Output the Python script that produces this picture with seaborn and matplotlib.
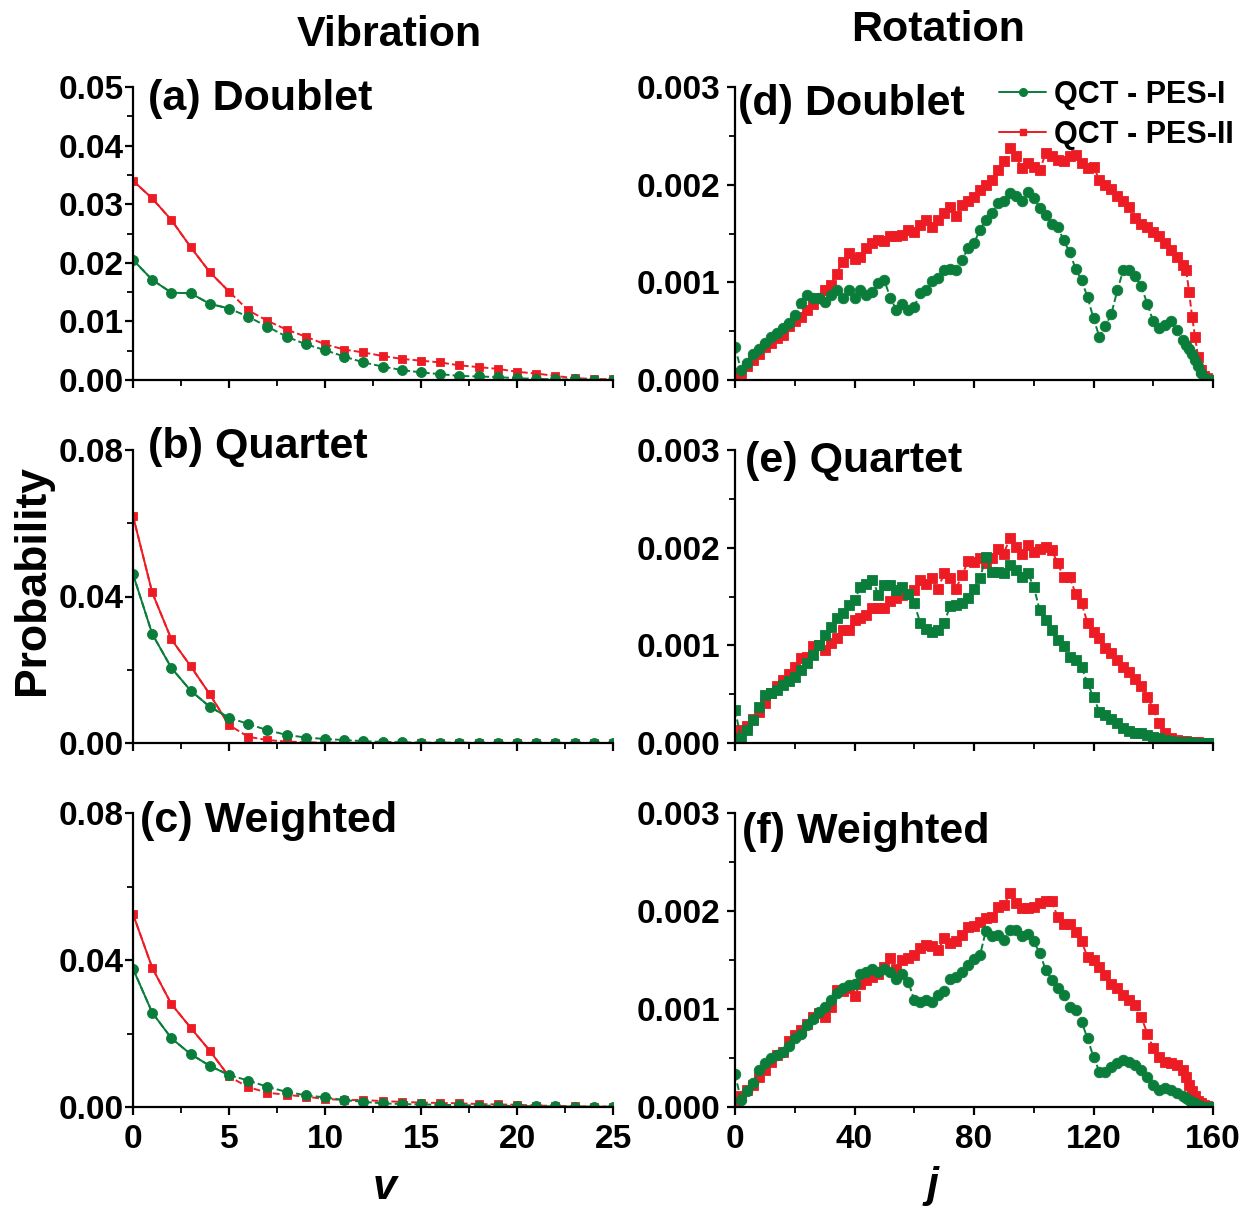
import numpy as np
import pandas as pd
import matplotlib
matplotlib.use("Agg")
import matplotlib.pyplot as plt
from matplotlib.lines import Line2D
from matplotlib.ticker import MultipleLocator, FormatStrFormatter
import seaborn as sns

sns.set_theme(style="ticks")
plt.rcParams["font.family"] = ["Liberation Sans", "DejaVu Sans"]
plt.rcParams["font.weight"] = "bold"
plt.rcParams["axes.labelweight"] = "bold"
for key in ("text.color", "axes.labelcolor", "xtick.color", "ytick.color",
            "axes.edgecolor"):
    plt.rcParams[key] = "black"

GREEN = "#0a7d3b"
RED = "#ed1c24"

# ---------------- vibrational distributions (v = 0..25) ----------------
v = list(range(26))

vib_doublet_pes1 = [0.0205, 0.0171, 0.0149, 0.0148, 0.0130, 0.0122, 0.0108, 0.0091,
                    0.0074, 0.0061, 0.0051, 0.0040, 0.0030, 0.0023, 0.0017, 0.0013,
                    0.0010, 0.0007, 0.0006, 0.0005, 0.0003, 0.0002, 0.0001, 0.0001,
                    0.00005, 0.0]
vib_doublet_pes2 = [0.0340, 0.0310, 0.0273, 0.0227, 0.0184, 0.0151, 0.0119, 0.0101,
                    0.0086, 0.0074, 0.0061, 0.0052, 0.0047, 0.0041, 0.0036, 0.0033,
                    0.0030, 0.0025, 0.0022, 0.0019, 0.0014, 0.0011, 0.0007, 0.0003,
                    0.0002, 0.0001]

vib_quartet_pes1 = [0.0461, 0.0298, 0.0205, 0.0143, 0.0099, 0.0069, 0.0052, 0.0035,
                    0.0022, 0.0015, 0.0011, 0.0008, 0.0005, 0.0003, 0.0002, 0.0001,
                    0.0001, 0.0001, 0.0, 0.0, 0.0, 0.0, 0.0, 0.0, 0.0, 0.0]
vib_quartet_pes2 = [0.0620, 0.0411, 0.0283, 0.0210, 0.0133, 0.0049, 0.0017, 0.0008,
                    0.0004, 0.0002, 0.0001, 0.0001, 0.0, 0.0, 0.0, 0.0, 0.0, 0.0,
                    0.0, 0.0, 0.0, 0.0, 0.0, 0.0, 0.0, 0.0]

vib_weighted_pes1 = [0.0376, 0.0257, 0.0187, 0.0144, 0.0112, 0.0087, 0.0072, 0.0055,
                     0.0041, 0.0032, 0.0026, 0.0019, 0.0014, 0.0010, 0.0008, 0.0007,
                     0.0006, 0.0005, 0.0004, 0.0003, 0.0003, 0.0002, 0.0002, 0.0001,
                     0.0001, 0.0001]
vib_weighted_pes2 = [0.0525, 0.0379, 0.0280, 0.0216, 0.0153, 0.0083, 0.0054, 0.0039,
                     0.0033, 0.0028, 0.0022, 0.0019, 0.0019, 0.0016, 0.0014, 0.0012,
                     0.0011, 0.0010, 0.0008, 0.0007, 0.0006, 0.0004, 0.0003, 0.0002,
                     0.0001, 0.0001]

# ---------------- rotational distributions (units of 1e-3) ----------------
j = list(range(0, 151, 2)) + list(range(151, 161))

rot_doublet_pes1 = [0.34, 0.10, 0.17, 0.27, 0.32, 0.38, 0.44, 0.48, 0.53, 0.58, 0.67,
                    0.79, 0.87, 0.84, 0.84, 0.80, 0.87, 0.92, 0.84, 0.92, 0.84,
                    0.92, 0.87, 0.90, 0.99, 1.02, 0.84, 0.72, 0.78, 0.72, 0.75,
                    0.89, 0.92, 1.01, 1.04, 1.13, 1.14, 1.13, 1.23, 1.35, 1.40,
                    1.54, 1.64, 1.71, 1.81, 1.83, 1.91, 1.88, 1.83, 1.93, 1.86,
                    1.76, 1.69, 1.60, 1.57, 1.43, 1.31, 1.14, 1.02, 0.85, 0.63,
                    0.44, 0.55, 0.68, 0.92, 1.13, 1.13, 1.06, 0.96, 0.78, 0.60,
                    0.53, 0.56, 0.60, 0.51, 0.41,
                    0.36, 0.32, 0.27, 0.20, 0.14, 0.07, 0.02, 0.01, 0.0, 0.0]
rot_doublet_pes2 = [0.02, 0.07, 0.14, 0.20, 0.27, 0.34, 0.38, 0.43, 0.46, 0.55, 0.60,
                    0.65, 0.72, 0.78, 0.84, 0.92, 0.97, 1.09, 1.21, 1.30, 1.24,
                    1.26, 1.35, 1.40, 1.43, 1.42, 1.47, 1.47, 1.48, 1.54, 1.52,
                    1.59, 1.64, 1.57, 1.64, 1.71, 1.77, 1.68, 1.79, 1.83, 1.87,
                    1.95, 2.00, 2.05, 2.15, 2.24, 2.38, 2.29, 2.17, 2.22, 2.18,
                    2.15, 2.32, 2.29, 2.25, 2.24, 2.29, 2.30, 2.22, 2.17, 2.18,
                    2.05, 2.00, 1.96, 1.88, 1.83, 1.77, 1.66, 1.60, 1.57, 1.52,
                    1.47, 1.40, 1.33, 1.26, 1.18,
                    1.13, 0.90, 0.65, 0.44, 0.24, 0.10, 0.04, 0.02, 0.0, 0.0]

rot_quartet_pes1 = [0.34, 0.05, 0.13, 0.24, 0.37, 0.49, 0.51, 0.54, 0.59, 0.63, 0.68,
                    0.75, 0.82, 0.90, 1.00, 1.11, 1.19, 1.28, 1.33, 1.41, 1.46,
                    1.60, 1.63, 1.67, 1.52, 1.62, 1.62, 1.57, 1.60, 1.53, 1.43,
                    1.23, 1.17, 1.14, 1.16, 1.23, 1.40, 1.41, 1.43, 1.48, 1.58,
                    1.69, 1.90, 1.75, 1.75, 1.74, 1.82, 1.77, 1.70, 1.74, 1.60,
                    1.36, 1.26, 1.16, 1.05, 0.99, 0.88, 0.85, 0.78, 0.61, 0.47,
                    0.32, 0.29, 0.25, 0.20, 0.15, 0.12, 0.10, 0.10, 0.08, 0.06,
                    0.05, 0.03, 0.02, 0.01, 0.01,
                    0.01, 0.01, 0.005, 0.005, 0.0, 0.0, 0.0, 0.0, 0.0, 0.0]
rot_quartet_pes2 = [0.06, 0.13, 0.17, 0.25, 0.32, 0.41, 0.51, 0.58, 0.65, 0.71, 0.78,
                    0.87, 0.88, 0.99, 1.00, 0.95, 1.02, 1.07, 1.16, 1.16, 1.26,
                    1.28, 1.31, 1.38, 1.38, 1.38, 1.45, 1.48, 1.52, 1.53, 1.57,
                    1.67, 1.63, 1.69, 1.58, 1.74, 1.69, 1.58, 1.72, 1.86, 1.85,
                    1.89, 1.84, 1.89, 1.99, 1.94, 2.10, 2.01, 1.94, 2.03, 1.96,
                    1.99, 2.01, 1.98, 1.84, 1.70, 1.70, 1.53, 1.43, 1.23, 1.14,
                    1.07, 0.97, 0.92, 0.85, 0.78, 0.73, 0.66, 0.58, 0.47, 0.35,
                    0.20, 0.10, 0.05, 0.03, 0.02,
                    0.02, 0.01, 0.01, 0.01, 0.01, 0.005, 0.005, 0.0, 0.0, 0.0]

rot_weighted_pes1 = [0.34, 0.07, 0.16, 0.24, 0.38, 0.45, 0.50, 0.53, 0.56, 0.62, 0.70,
                     0.75, 0.84, 0.90, 0.97, 1.02, 1.09, 1.16, 1.21, 1.24, 1.26,
                     1.36, 1.38, 1.41, 1.38, 1.41, 1.38, 1.31, 1.36, 1.28, 1.09,
                     1.07, 1.09, 1.07, 1.14, 1.18, 1.31, 1.33, 1.38, 1.45, 1.51,
                     1.55, 1.80, 1.74, 1.76, 1.70, 1.81, 1.81, 1.74, 1.77, 1.69,
                     1.57, 1.40, 1.30, 1.21, 1.14, 1.02, 0.99, 0.87, 0.70, 0.51,
                     0.36, 0.36, 0.41, 0.45, 0.48, 0.46, 0.43, 0.38, 0.31, 0.22,
                     0.17, 0.19, 0.17, 0.14, 0.11,
                     0.09, 0.07, 0.05, 0.04, 0.02, 0.01, 0.0, 0.0, 0.0, 0.0]
rot_weighted_pes2 = [0.04, 0.11, 0.17, 0.22, 0.31, 0.38, 0.46, 0.53, 0.56, 0.67, 0.73,
                     0.79, 0.85, 0.92, 0.96, 0.92, 1.02, 1.19, 1.18, 1.21, 1.13,
                     1.26, 1.30, 1.33, 1.36, 1.43, 1.52, 1.41, 1.50, 1.52, 1.55,
                     1.62, 1.65, 1.64, 1.60, 1.72, 1.67, 1.69, 1.76, 1.84, 1.85,
                     1.89, 1.93, 1.94, 2.04, 2.06, 2.18, 2.08, 2.03, 2.03, 2.04,
                     2.08, 2.10, 2.10, 1.94, 1.87, 1.87, 1.79, 1.69, 1.53, 1.50,
                     1.43, 1.35, 1.26, 1.21, 1.14, 1.09, 1.04, 0.92, 0.75, 0.60,
                     0.51, 0.46, 0.45, 0.43, 0.38,
                     0.31, 0.22, 0.16, 0.11, 0.06, 0.04, 0.02, 0.01, 0.0, 0.0]

ROT_SCALE = 1e-3
DASH = (0, (3.5, 1.6))

fig = plt.figure(figsize=(12.47, 12.09), dpi=100)

W, H = 1247.0, 1209.0
rows_px = [(87, 380), (450, 743), (813, 1107)]


def make_ax(x0, x1, y0, y1):
    return fig.add_axes([x0 / W, 1 - y1 / H, (x1 - x0) / W, (y1 - y0) / H])


def style_axis(ax, show_xlabels, label_pad):
    sns.despine(ax=ax)
    for side in ("left", "bottom"):
        ax.spines[side].set_linewidth(1.6)
        ax.spines[side].set_color("black")
    ax.tick_params(which="major", direction="out", length=6, width=1.6,
                   labelsize=24, colors="black")
    ax.tick_params(axis="y", which="major", pad=label_pad)
    ax.tick_params(axis="x", which="major", pad=6)
    ax.tick_params(which="minor", direction="out", length=4, width=1.3,
                   colors="black")
    if not show_xlabels:
        ax.tick_params(axis="x", labelbottom=False)
    ax.grid(False)
    ax.set_xlabel("")
    ax.set_ylabel("")


def draw_series(ax, df, xcol, ycol, color, marker, ms, solid_upto=None):
    sns.lineplot(data=df, x=xcol, y=ycol, ax=ax, color=color, lw=1.4,
                 linestyle=DASH, marker=marker, markersize=ms,
                 markeredgecolor=color, markeredgewidth=0.6, legend=False)
    if solid_upto is not None:
        part = df[df[xcol] <= solid_upto]
        sns.lineplot(data=part, x=xcol, y=ycol, ax=ax, color=color, lw=1.4,
                     linestyle="-", legend=False)


vib_sets = [
    (vib_doublet_pes1, vib_doublet_pes2, 0.05, 0.01, 0.005, "(a) Doublet", (0.031, 0.959)),
    (vib_quartet_pes1, vib_quartet_pes2, 0.08, 0.04, 0.02, "(b) Quartet", (0.031, 1.010)),
    (vib_weighted_pes1, vib_weighted_pes2, 0.08, 0.04, 0.02, "(c) Weighted", (0.015, 0.973)),
]
rot_sets = [
    (rot_doublet_pes1, rot_doublet_pes2, "o", "(d) Doublet", (0.006, 0.942)),
    (rot_quartet_pes1, rot_quartet_pes2, "s", "(e) Quartet", (0.021, 0.962)),
    (rot_weighted_pes1, rot_weighted_pes2, "o", "(f) Weighted", (0.015, 0.935)),
]

for i, (p1, p2, ymax, major, minor, title, pos) in enumerate(vib_sets):
    y0, y1 = rows_px[i]
    ax = make_ax(133, 613, y0, y1)
    df = pd.DataFrame({"v": v, "pes1": p1, "pes2": p2})
    draw_series(ax, df, "v", "pes2", RED, "s", 6.2, solid_upto=5)
    draw_series(ax, df, "v", "pes1", GREEN, "o", 7.2, solid_upto=5)
    ax.set_xlim(0, 25)
    ax.set_ylim(0, ymax)
    ax.xaxis.set_major_locator(MultipleLocator(5))
    ax.xaxis.set_minor_locator(MultipleLocator(2.5))
    ax.yaxis.set_major_locator(MultipleLocator(major))
    ax.yaxis.set_minor_locator(MultipleLocator(minor))
    ax.yaxis.set_major_formatter(FormatStrFormatter("%.2f"))
    style_axis(ax, show_xlabels=(i == 2), label_pad=0.5)
    ax.text(pos[0], pos[1], title, transform=ax.transAxes, fontsize=31,
            fontweight="bold", ha="left", va="center", clip_on=False)

for i, (p1, p2, green_marker, title, pos) in enumerate(rot_sets):
    y0, y1 = rows_px[i]
    ax = make_ax(735, 1213, y0, y1)
    df = pd.DataFrame({"j": j,
                       "pes1": np.array(p1) * ROT_SCALE,
                       "pes2": np.array(p2) * ROT_SCALE})
    draw_series(ax, df, "j", "pes2", RED, "s", 6.8)
    gms = 7.0 if green_marker == "s" else 7.6
    draw_series(ax, df, "j", "pes1", GREEN, green_marker, gms)
    ax.set_xlim(0, 160)
    ax.set_ylim(0, 0.003)
    ax.xaxis.set_major_locator(MultipleLocator(40))
    ax.xaxis.set_minor_locator(MultipleLocator(20))
    ax.yaxis.set_major_locator(MultipleLocator(0.001))
    ax.yaxis.set_minor_locator(MultipleLocator(0.0005))
    ax.yaxis.set_major_formatter(FormatStrFormatter("%.3f"))
    style_axis(ax, show_xlabels=(i == 2), label_pad=4.5)
    ax.text(pos[0], pos[1], title, transform=ax.transAxes, fontsize=31,
            fontweight="bold", ha="left", va="center", clip_on=False)
    if i == 0:
        handles = [
            Line2D([], [], color=GREEN, lw=1.4, marker="o", markersize=5.5,
                   markeredgecolor=GREEN),
            Line2D([], [], color=RED, lw=1.4, marker="s", markersize=5.0,
                   markeredgecolor=RED),
        ]
        ax.legend(handles, ["QCT - PES-I", "QCT - PES-II"], loc="upper left",
                  bbox_to_anchor=(0.552, 1.025), frameon=False, fontsize=22,
                  handlelength=1.55, handletextpad=0.25, labelspacing=0.33,
                  borderpad=0.0, borderaxespad=0.0)

fig.text(389 / W, 1 - 35 / H, "Vibration", fontsize=31, fontweight="bold",
         ha="center", va="center")
fig.text(938 / W, 1 - 30 / H, "Rotation", fontsize=31, fontweight="bold",
         ha="center", va="center")
fig.text(33 / W, 1 - 580 / H, "Probability", fontsize=32, fontweight="bold",
         rotation=90, ha="center", va="center")
fig.text(385 / W, 1 - 1199 / H, "v", fontsize=31, fontweight="bold",
         style="italic", ha="center", va="baseline")
fig.text(933 / W, 1 - 1197 / H, "j", fontsize=31, fontweight="bold",
         style="italic", ha="center", va="baseline")

fig.savefig("out.png", dpi=100, facecolor="white")
